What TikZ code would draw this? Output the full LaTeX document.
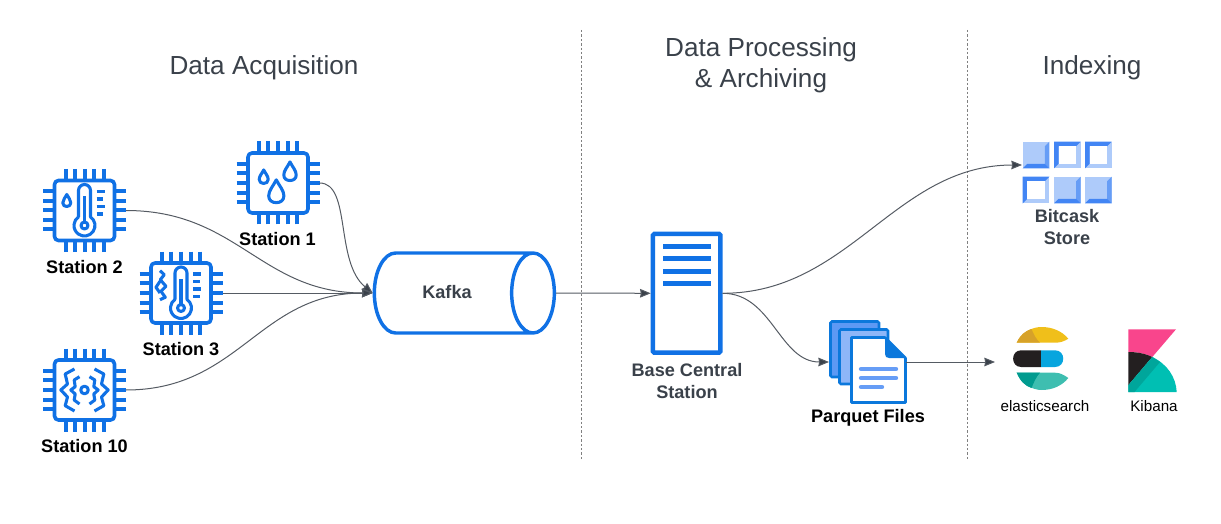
\documentclass[tikz,border=0pt]{standalone}
\usepackage{fontspec}
\setmainfont{Liberation Sans}
\usetikzlibrary{arrows.meta,shapes.geometric}
\definecolor{lucidblue}{HTML}{1071E5}
\definecolor{inkgray}{HTML}{3A414A}
\definecolor{linegray}{HTML}{555B63}
\definecolor{bitdark}{HTML}{4285F4}
\definecolor{bitmid}{HTML}{669DF6}
\definecolor{bitlight}{HTML}{AECBFA}
\definecolor{pagestroke}{HTML}{0B78DC}
\definecolor{esyellow}{HTML}{F0BF1A}
\definecolor{esgold}{HTML}{D7A229}
\definecolor{esblack}{HTML}{231F20}
\definecolor{esblue}{HTML}{07A5DE}
\definecolor{esteal}{HTML}{3EBEB0}
\definecolor{esdeep}{HTML}{019B8F}
\definecolor{kbpink}{HTML}{F9458C}
\definecolor{kbteal}{HTML}{00BFB3}
\definecolor{kbdeep}{HTML}{00A69B}
\tikzset{every picture/.style={line width=0.75pt},
  heading/.style={font=\fontsize{19.6pt}{23.25pt}\selectfont,text=inkgray,align=center},
  stlabel/.style={font=\fontsize{13.6pt}{16.5pt}\selectfont\bfseries,text=black,align=center},
  grlabel/.style={font=\fontsize{13.6pt}{16.5pt}\selectfont\bfseries,text=inkgray,align=center},
  logolabel/.style={font=\fontsize{11.4pt}{14pt}\selectfont,text=black},
  chip/.style={minimum size=62.25pt,inner sep=0pt,outer sep=0pt},
  icon/.style={draw=lucidblue,line width=2.3pt,line join=round},
  pin/.style={draw=lucidblue,line width=3pt},
  flow/.style={draw=linegray,line width=0.75pt,-{Stealth[length=8pt,width=6.5pt,inset=0.6pt,fill=inkgray]}},
  separator/.style={draw=gray,line width=0.6pt,dash pattern=on 1.8pt off 1.5pt},
}
\newcommand{\chipframe}{%
  \draw[icon,line width=2.7pt,rounded corners=3pt] (-30,-30) rectangle (30,30);
  \foreach \p in {-19,-9.6,0,9.6,19} {
    \draw[pin] (\p,-41.5) -- (\p,-31);
    \draw[pin] (\p,41.5) -- (\p,31);
    \draw[pin] (-41.5,\p) -- (-31,\p);
    \draw[pin] (41.5,\p) -- (31,\p);
  }}
\newcommand{\waterdrop}[3]{%
  \begin{scope}[shift={(#1,#2)},scale=#3]
    \draw[icon] (0,-1.9) .. controls (0.4,-1.1) and (1,-0.5) .. (1,0.2) .. controls (1,0.8) and (0.55,1.1) .. (0,1.1) .. controls (-0.55,1.1) and (-1,0.8) .. (-1,0.2) .. controls (-1,-0.5) and (-0.4,-1.1) .. (0,-1.9) -- cycle;
  \end{scope}}
\newcommand{\thermo}{%
  \draw[icon] (-6,6.4) -- (-6,-20) arc[start angle=180,end angle=360,radius=6] -- (6,6.4) arc[start angle=-55,end angle=235,radius=10.5] -- cycle;
  \draw[icon] (0,15) circle[radius=3.5];
  \draw[icon] (0,11) -- (0,-14);
  \draw[icon] (12,-19) -- (20,-19);
  \draw[icon] (12,-11.5) -- (18.5,-11.5);
  \draw[icon] (12,-4) -- (20,-4);
  \draw[icon] (12,3.5) -- (18.5,3.5);}
\newcommand{\bitfull}[2]{%
  \begin{scope}[shift={(#1,#2)}]
    \fill[bitlight] (0,0) rectangle (26.6,26.6);
    \fill[bitmid] (26.6,0) -- (26.6,26.6) -- (22.1,22.1) -- (22.1,4.5) -- cycle;
    \fill[bitdark] (0,26.6) -- (26.6,26.6) -- (22.1,22.1) -- (4.5,22.1) -- cycle;
  \end{scope}}
\newcommand{\bithollow}[2]{%
  \begin{scope}[shift={(#1,#2)}]
    \fill[bitlight] (0,0) rectangle (26.6,26.6);
    \fill[bitdark] (0,26.6) -- (0,0) -- (26.6,0) -- (22.1,4.5) -- (4.5,4.5) -- (4.5,22.1) -- cycle;
    \fill[white] (4.5,4.5) rectangle (22.1,22.1);
  \end{scope}}
\begin{document}
\begin{tikzpicture}[x=0.75pt,y=0.75pt,yscale=-1,xscale=1]
\useasboundingbox (0,0) rectangle (1221,524);

%Straight Lines: section borders
\draw[separator] (581.5,30) -- (581.5,460);
\draw[separator] (967.5,30) -- (967.5,460);

%Shape: stations
\draw (278,183) node [chip] (st1) {};
\begin{scope}[shift={(278,183)}]
  \chipframe
  \waterdrop{-14.3}{-4.5}{4.5}
  \waterdrop{-1.7}{11.3}{7.6}
  \waterdrop{12}{-9.3}{6.2}
\end{scope}
\draw (84.5,210.5) node [chip] (st2) {};
\begin{scope}[shift={(84.5,210.5)}]
  \chipframe
  \thermo
  \waterdrop{-17.7}{-8.4}{4}
\end{scope}
\draw (181,293) node [chip] (st3) {};
\begin{scope}[shift={(181,293)}]
  \chipframe
  \thermo
  \draw[icon] (-21,-22.3) -- (-16.7,-18.3) -- (-20.7,-13.3) -- (-15,-6.7) -- (-20,-1.7) -- (-15.7,4.3) -- (-21,6.7);
  \draw[icon] (-21,-11.7) -- (-25,-5.7) -- (-21,0);
\end{scope}
\draw (84.5,390) node [chip] (st10) {};
\begin{scope}[shift={(84.5,390)}]
  \chipframe
  \draw[icon] (0,0) circle[radius=3.8];
  \foreach \s in {1,-1} {
    \begin{scope}[xscale=\s]
      \draw[icon] (-10,-21) -- (-19.3,-16) -- (-17,-6) -- (-23.7,0) -- (-17,7) -- (-19.3,15.7) -- (-10,21);
      \draw[icon] (-5,-13.3) -- (-10.3,-10) -- (-9.3,-3.3) -- (-13.7,0) -- (-9.3,4) -- (-10.3,10) -- (-5,14);
    \end{scope}
  }
\end{scope}

%Shape: Can
\draw (452.8,293) node [cylinder,draw=lucidblue,line width=2.6pt,aspect=2.7,minimum height=135pt,minimum width=60pt,inner sep=0pt,font=\fontsize{13.6pt}{16pt}\selectfont\bfseries,text=inkgray] (kafka) {\raisebox{2pt}{Kafka}\kern8.7pt};

%Shape: server
\draw (686.7,293.3) node [draw=lucidblue,line width=3.4pt,fill=white,rounded corners=1pt,minimum width=50.6pt,minimum height=89pt,inner sep=0pt] (base) {};
\foreach \y in {246,258.3,271,283.3} {
  \fill[lucidblue] (663,\y-2.5) rectangle (710.7,\y+2.5);
}

%Shape: page stack
\draw (867.5,362) node [minimum width=57.75pt,minimum height=63pt,inner sep=0pt,outer sep=0pt] (parquet) {};
\draw[draw=pagestroke,fill=bitmid!90!lucidblue,line width=1.9pt,rounded corners=1pt] (830.5,321.5) rectangle (879,377);
\draw[draw=pagestroke,fill=bitlight!55!bitmid,line width=1.9pt,rounded corners=1pt] (839.5,329.5) rectangle (888,384);
\draw[draw=pagestroke,fill=white,line width=1.9pt,line join=round] (851.5,337.5) -- (885,337.5) -- (905.5,358) -- (905.5,402.5) -- (851.5,402.5) -- cycle;
\fill[pagestroke] (885,337.5) -- (905.5,358) -- (889,358) .. controls (886.5,358) and (885,356.5) .. (885,354) -- cycle;
\draw[draw=bitmid,line width=3.3pt,line cap=round] (861,369) -- (896,369);
\draw[draw=bitmid,line width=3.3pt,line cap=round] (861,378) -- (896,378);
\draw[draw=bitmid,line width=3.3pt,line cap=round] (861,387) -- (882,387);

%Shape: store squares
\bitfull{1022.7}{141.7}
\bithollow{1054}{141.7}
\bithollow{1085}{141.7}
\bithollow{1022.7}{176.7}
\bitfull{1054}{176.7}
\bitfull{1085}{176.7}

%Shape: elastic logo
\fill[esyellow] (1016.7,342.7) .. controls (1022,332) and (1032,327) .. (1041.7,327) .. controls (1052,327) and (1062,331) .. (1068.3,338.7) .. controls (1064,341.5) and (1060,342.7) .. (1055,342.7) -- cycle;
\fill[esgold] (1016.7,342.7) .. controls (1020,335) and (1025,331) .. (1031.5,329) .. controls (1034,335) and (1036,339) .. (1040,342.7) -- cycle;
\fill[esblack] (1041,350.3) -- (1041,367) -- (1021,367) .. controls (1010.5,367) and (1010.5,350.3) .. (1021,350.3) -- cycle;
\fill[esblue] (1041,350.3) -- (1041,367) -- (1055,367) .. controls (1066,367) and (1066,350.3) .. (1055,350.3) -- cycle;
\fill[esteal] (1016.7,372.7) .. controls (1022,384) and (1032,390) .. (1041.7,390) .. controls (1052,390) and (1062,386) .. (1068.3,378) .. controls (1064,375) and (1060,372.7) .. (1055,372.7) -- cycle;
\fill[esdeep] (1016.7,372.7) .. controls (1020,381) and (1025,386) .. (1031.5,388) .. controls (1034,382) and (1036,377) .. (1040,372.7) -- cycle;

%Shape: kibana logo
\fill[kbpink] (1128.3,329.3) -- (1176,329.3) -- (1152.3,357) .. controls (1145,353.5) and (1137,352) .. (1128.3,352) -- cycle;
\fill[esblack] (1128.3,352) .. controls (1137,352) and (1145,353.5) .. (1152.3,357) -- (1128.3,385.3) -- cycle;
\fill[kbteal] (1128.3,392) -- (1128.3,385.3) -- (1152.3,357) .. controls (1167,364) and (1176,377) .. (1176.7,392) -- cycle;
\fill[kbdeep] (1128.3,392) -- (1128.3,385.3) -- (1152.3,357) -- (1160,362) -- (1134.5,392) -- cycle;

%Straight Lines: free ends
\coordinate (bitcaskin) at (1022,165);
\coordinate (elasticin) at (995,362);

%Curve Lines
\draw[flow] (st1.east) .. controls +(32,0) and +(-38,-31) .. (kafka.bottom);
\draw[flow] (st2.east) to[out=0,in=180,looseness=1.1] (kafka.bottom);
\draw[flow] (st3.east) -- (kafka.bottom);
\draw[flow] (st10.east) to[out=0,in=180,looseness=1.1] (kafka.bottom);
\draw[flow] (kafka.top) -- (base.west);
\draw[flow] (base.east) to[out=0,in=180] (bitcaskin);
\draw[flow] (base.east) to[out=0,in=180] (parquet.west);
\draw[flow] (parquet.east) -- (elasticin);

% Text Node
\draw (264,68) node [heading] (head1) {Data Acquisition};
% Text Node
\draw (761,65) node [heading] (head2) {Data Processing\\\& Archiving};
% Text Node
\draw (1092,68) node [heading] (head3) {Indexing};
% Text Node
\draw (277.5,239) node [stlabel] (lab1) {Station 1};
% Text Node
\draw (84.5,267) node [stlabel] (lab2) {Station 2};
% Text Node
\draw (181,349) node [stlabel] (lab3) {Station 3};
% Text Node
\draw (84.5,446) node [stlabel] (lab10) {Station 10};
% Text Node
\draw (687,381) node [grlabel] (labbase) {Base Central\\Station};
% Text Node
\draw (868,418) node [stlabel] (labparquet) {Parquet Files};
% Text Node
\draw (1067,227) node [grlabel] (labbitcask) {Bitcask\\Store};
% Text Node
\draw (1045,406) node [logolabel] (labelastic) {elasticsearch};
% Text Node
\draw (1154,406) node [logolabel] (labkibana) {Kibana};

\end{tikzpicture}
\end{document}
